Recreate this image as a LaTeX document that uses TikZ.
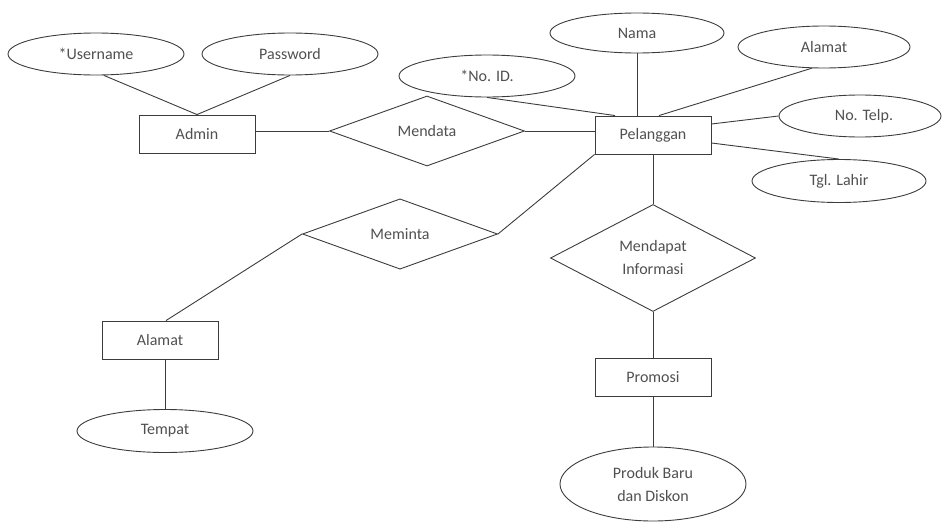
\documentclass[tikz,border=0pt]{standalone}
\usepackage{fontspec}
\setmainfont{Carlito}
\usetikzlibrary{shapes.geometric,calc}
\definecolor{ln}{HTML}{3C3C3C}
\definecolor{tx}{HTML}{505050}
\begin{document}
\begin{tikzpicture}[x=1pt,y=-1pt,
  every node/.style={text=tx,font=\fontsize{16}{23}\selectfont,align=center},
  attr/.style={draw=ln,line width=0.9pt,ellipse,inner sep=0pt},
  ent/.style={draw=ln,line width=0.9pt,rectangle,minimum width=116pt,minimum height=38pt,inner sep=0pt},
  rel/.style={draw=ln,line width=0.9pt,diamond,inner sep=0pt},
  conn/.style={draw=ln,line width=0.9pt}]
\useasboundingbox (0,0) rectangle (942,522);
% entities
\node[ent] (admin) at (197,134) {Admin};
\node[ent] (pel) at (653,135) {Pelanggan};
\node[ent] (alm) at (160,340) {Alamat};
\node[ent] (pro) at (653,377) {Promosi};
% relations
\node[rel,minimum width=195pt,minimum height=64pt] (mdt) at (427,131) {Mendata};
\node[rel,minimum width=195pt,minimum height=64pt] (mmt) at (400,234) {Meminta};
\node[rel,minimum width=205pt,minimum height=107pt] (mi) at (653,258) {Mendapat\\Informasi};
% attributes
\node[attr,minimum width=176pt,minimum height=42pt] (user) at (96,54) {*Username};
\node[attr,minimum width=176pt,minimum height=42pt] (pass) at (290,54) {Password};
\node[attr,minimum width=176pt,minimum height=42pt] (noid) at (487,76) {*No. ID.};
\node[attr,minimum width=174pt,minimum height=40pt] (nama) at (637,33) {Nama};
\node[attr,minimum width=172pt,minimum height=42pt] (almt) at (824,47) {Alamat};
\node[attr,minimum width=162pt,minimum height=42pt] (telp) at (860,116) {\hspace*{8pt}No. Telp.};
\node[attr,minimum width=174pt,minimum height=43pt] (tgl) at (839,181) {Tgl. Lahir};
\node[attr,minimum width=176pt,minimum height=43pt] (tmp) at (165,431) {Tempat};
\node[attr,minimum width=186pt,minimum height=74pt] (prd) at (653,484) {Produk Baru\\dan Diskon};
% connectors
\draw[conn] (user.-70) -- (admin.north);
\draw[conn] (pass.south) -- (admin.north);
\draw[conn] (admin.east |- mdt.west) -- (mdt.west);
\draw[conn] (mdt.east) -- (mdt.east -| pel.west);
\draw[conn] (noid.south) -- ($(pel.north)+(-38,0)$);
\draw[conn] (nama.south) -- (nama.south |- pel.north);
\draw[conn] (almt.-120) -- ($(pel.north)+(6,0)$);
\draw[conn] (telp.west) -- ($(pel.east)+(0,-11)$);
\draw[conn] ($(pel.east)+(0,8)$) -- (tgl.north);
\draw[conn] (mmt.east) -- (pel.south west);
\draw[conn] (mmt.west) -- ($(alm.north)+(6,0)$);
\draw[conn] (pel.south) -- (mi.north);
\draw[conn] (mi.south) -- (pro.north);
\draw[conn] (pro.south) -- (prd.north);
\draw[conn] ($(alm.south)+(5,0)$) -- (tmp.north);
\end{tikzpicture}
\end{document}
